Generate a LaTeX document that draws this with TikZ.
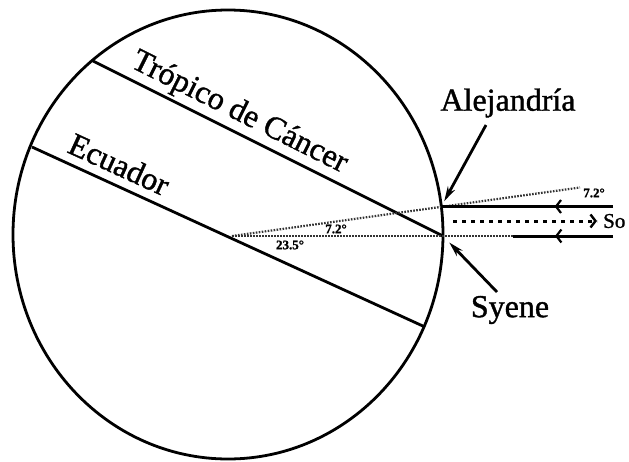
\documentclass[tikz,border=0pt]{standalone}
\usepackage{fontspec}
\setmainfont{Liberation Serif}
\newfontfamily\labelfont{Liberation Serif}[FakeBold=1.2]
\usetikzlibrary{arrows.meta, decorations.markings}

\begin{document}
\begin{tikzpicture}[x=1pt, y=-1pt,
		every node/.style={font=\labelfont\fontsize{32}{36}\selectfont, inner sep=1pt},
		rim/.style={line width=2.8pt},
		ray/.style={line width=3pt},
		sight/.style={draw=black!80, line width=2.2pt, dash pattern=on 1.6pt off 1.4pt},
		pointer/.style={line width=2.8pt, -{Stealth[length=15pt, width=8pt]}},
		chevron/.style={postaction={decorate}, decoration={markings,
			mark=at position #1 with {\arrow{Straight Barb[length=5pt, width=13pt, line width=2.2pt]}}}},
		degree/.style={font=\labelfont\bfseries\fontsize{13}{14}\selectfont, inner sep=0pt}
	]
		\useasboundingbox (0,0) rectangle (629,461);
		
		\coordinate (earth) at (228,234.5);
		\coordinate (vertex) at (232,236);
		\coordinate (syene) at (443,236);
		\coordinate (alej) at (441.3,206.5);
		\coordinate (tropW) at (93,61);
		\coordinate (equW) at (32,147);
		\coordinate (equE) at (425,327);
		\coordinate (sightEnd) at (580,187.5);
		\coordinate (rayTopE) at (613,206.5);
		\coordinate (rayLowW) at (513,236);
		\coordinate (rayLowE) at (613,236);
		\coordinate (sunW) at (453,221);
		\coordinate (sunE) at (597,221);
		\coordinate (sunTip) at (595,221);
		\coordinate (alejTail) at (486,125);
		\coordinate (syeneTail) at (497,292);
		
		% Earth, tropic and equator
		\draw[rim] (earth) ellipse [x radius=215pt, y radius=224.5pt];
		\draw[rim] (tropW) -- (syene)
			node[pos=0.394, sloped, above=2pt] (tropLbl) {Trópico de Cáncer};
		\draw[rim] (equW) -- (equE)
			node[pos=0.2, sloped, above=7pt] (equLbl) {Ecuador};
		
		% lines of sight from the centre
		\draw[sight] (vertex) -- (sightEnd);
		\draw[sight] (vertex) -- (rayLowW);
		
		% sun rays
		\draw[ray, chevron=0.34] (rayTopE) -- (alej);
		\draw[ray, chevron=0.58] (rayLowE) -- (rayLowW);
		\draw[line width=3pt, dash pattern=on 4pt off 5pt] (sunW) -- (sunE);
		\draw[line width=2.4pt, -{Straight Barb[length=5pt, width=13pt]}] (sunTip) -- (sunE);
		\node[anchor=west, font=\labelfont\fontsize{21}{24}\selectfont, inner sep=0pt] (sol) at (603,221) {So};
		
		% cities
		\node (alejLbl) at (508,103) {Alejandría};
		\node (syeneLbl) at (510,310) {Syene};
		\draw[pointer, shorten >=6pt] (alejTail) -- (alej);
		\draw[pointer, shorten >=9pt] (syeneTail) -- (syene);
		
		% angles
		\foreach \x/\y/\name/\label in {
			594/193/angA/7.2°,
			336/229/angB/7.2°,
			290/245/angC/23.5°
		}{
			\node[degree] (\name) at (\x,\y) {\label};
		}
	\end{tikzpicture}
\end{document}
